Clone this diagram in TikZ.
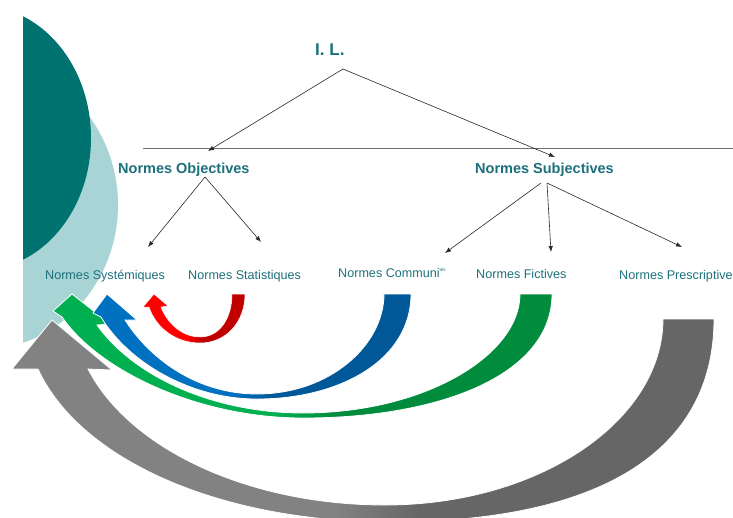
\documentclass[tikz,border=0pt]{standalone}
\usepackage{fontspec}
\setmainfont{Liberation Sans}
\usetikzlibrary{arrows.meta}
\definecolor{tealdark}{RGB}{0,115,112}
\definecolor{teallight}{RGB}{168,212,213}
\definecolor{txtteal}{RGB}{28,112,124}
\definecolor{conncol}{RGB}{40,40,40}
\definecolor{rulecol}{RGB}{110,110,110}
\definecolor{redL}{RGB}{255,0,0}
\definecolor{redR}{RGB}{192,0,0}
\definecolor{blueL}{RGB}{0,112,192}
\definecolor{blueR}{RGB}{0,88,152}
\definecolor{greenL}{RGB}{0,176,80}
\definecolor{greenR}{RGB}{0,140,60}
\definecolor{grayL}{RGB}{130,130,130}
\definecolor{grayR}{RGB}{102,102,102}
\pgfdeclarehorizontalshading{redshade}{100bp}{color(0bp)=(redL); color(46bp)=(redL); color(54bp)=(redR); color(100bp)=(redR)}
\pgfdeclarehorizontalshading{blueshade}{100bp}{color(0bp)=(blueL); color(47bp)=(blueL); color(53bp)=(blueR); color(100bp)=(blueR)}
\pgfdeclarehorizontalshading{greenshade}{100bp}{color(0bp)=(greenL); color(47bp)=(greenL); color(53bp)=(greenR); color(100bp)=(greenR)}
\pgfdeclarehorizontalshading{grayshade}{100bp}{color(0bp)=(grayL); color(48bp)=(grayL); color(54bp)=(grayR); color(100bp)=(grayR)}
\begin{document}
\begin{tikzpicture}[x=1pt,y=-1pt,
  lbl/.style={text=txtteal, font=\fontsize{12.6}{14}\selectfont, inner sep=0pt, anchor=base west},
  ttl/.style={text=txtteal, font=\bfseries\fontsize{14.5}{16}\selectfont, inner sep=0pt, anchor=base west},
  conn/.style={draw=conncol, line width=0.6pt, -{Latex[length=6pt,width=4.5pt]}},
  bigarrow/.style={draw=white, line width=0.8pt}]
\useasboundingbox (0,0) rectangle (733,517);
% background ovals
\begin{scope}
\clip (23,11) rectangle (733,517);
\fill[teallight] (-20,205) ellipse [x radius=138, y radius=145];
\fill[tealdark] (-20,138) ellipse [x radius=111, y radius=132];
\end{scope}
% curved arrows
\begin{scope}
\clip (0,0) rectangle (733,517);
\shadedraw[bigarrow, shading=grayshade]
 (714,319) .. controls (714,451) and (601,522) .. (390,522)
 .. controls (220,522) and (80,460) .. (38,369)
 -- (12,369) -- (52,320) -- (112,370) -- (88,369)
 .. controls (130,450) and (250,505) .. (385,505)
 .. controls (540,505) and (663,420) .. (663,319) -- cycle;
\shadedraw[bigarrow, shading=greenshade]
 (552,294) .. controls (552,375) and (440,418) .. (303,418)
 .. controls (200,418) and (100,372) .. (62,317)
 -- (53,311) -- (72,294) -- (110,324) -- (97,325)
 .. controls (135,378) and (215,413) .. (303,413)
 .. controls (425,413) and (520,355) .. (520,294) -- cycle;
\shadedraw[bigarrow, shading=blueshade]
 (411,294) .. controls (411,360) and (340,399) .. (257,399)
 .. controls (190,399) and (128,362) .. (101,317)
 -- (93,313) -- (107,294) -- (137,320) -- (125,320)
 .. controls (152,362) and (200,394) .. (257,394)
 .. controls (330,394) and (384,345) .. (384,294) -- cycle;
\shadedraw[bigarrow, line width=0.5pt, shading=redshade]
 (245,294) .. controls (245,322) and (226,343) .. (200,343)
 .. controls (176,343) and (156,328) .. (149,307)
 -- (143,307) -- (154,294) -- (168,306) -- (161,307)
 .. controls (167,323) and (182,337) .. (200,337)
 .. controls (220,337) and (232,318) .. (232,294) -- cycle;
\end{scope}
% texts
\node[ttl, font=\bfseries\fontsize{17}{19}\selectfont] (il) at (315,55) {I. L.};
\node[ttl] (obj) at (118,173) {Normes Objectives};
\node[ttl] (subj) at (475,173) {Normes Subjectives};
\node[lbl] (sys) at (45,279) {Normes Systémiques};
\node[lbl] (stat) at (188,279) {Normes Statistiques};
\node[lbl] (comm) at (338,277) {Normes Communi\raisebox{5.5pt}{\fontsize{4.5}{5}\selectfont tés}};
\node[lbl] (fict) at (476,278) {Normes Fictives};
\node[lbl] (pres) at (619,279) {Normes Prescriptive};
% connectors
\coordinate (ilapex) at (343,69);
\coordinate (objtip) at (208,151);
\coordinate (subtip) at (555,157);
\coordinate (objapex) at (205,177);
\coordinate (subapexL) at (541,183);
\coordinate (subapexR) at (547,183);
\coordinate (systip) at (148,247);
\coordinate (stattip) at (261,242);
\coordinate (commtip) at (445,253);
\coordinate (ficttip) at (551,252);
\coordinate (prestip) at (682,247);
\coordinate (ruleL) at (143,148);
\coordinate (ruleR) at (733,148);
\draw[draw=rulecol, line width=0.8pt] (ruleL) -- (ruleR);
\draw[conn] (ilapex) -- (objtip);
\draw[conn] (ilapex) -- (subtip);
\draw[conn] (objapex) -- (systip);
\draw[conn] (objapex) -- (stattip);
\draw[conn] (subapexL) -- (commtip);
\draw[conn] (subapexR) -- (ficttip);
\draw[conn] (subapexR) -- (prestip);
\end{tikzpicture}
\end{document}
